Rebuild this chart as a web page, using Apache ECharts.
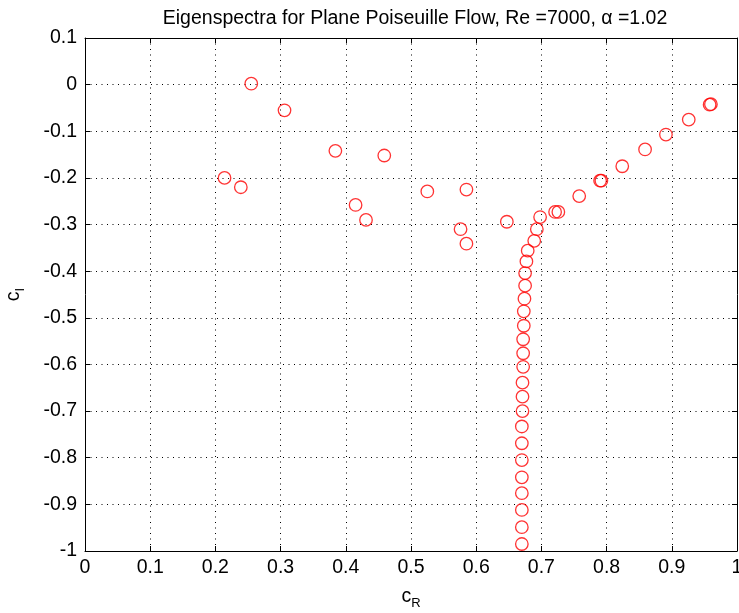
<!DOCTYPE html>
<html>
<head>
<meta charset="utf-8">
<script src="https://cdn.jsdelivr.net/npm/echarts@6/dist/echarts.min.js"></script>
<style>
html,body{margin:0;padding:0;background:#fff;}
#chart{width:739px;height:613px;}
</style>
</head>
<body>
<div id="chart"></div>
<script>
// Real parts c_R
var cR = [
  0.255, 0.306, 0.384, 0.459, 0.214, 0.239, 0.415, 0.431, 0.525, 0.585, 0.576, 0.585,
  0.647, 0.698, 0.721, 0.726, 0.758, 0.790, 0.792, 0.824, 0.859, 0.891, 0.926, 0.958, 0.960,
  0.693, 0.689, 0.679, 0.677, 0.675, 0.675, 0.674, 0.673, 0.673, 0.672, 0.672, 0.672,
  0.671, 0.671, 0.671, 0.670, 0.670, 0.670, 0.670, 0.670, 0.670, 0.670, 0.670
];
// Imaginary parts c_I
var cI = [
  0.002, -0.055, -0.142, -0.152, -0.200, -0.220, -0.258, -0.290, -0.229, -0.225, -0.310, -0.341,
  -0.294, -0.284, -0.273, -0.273, -0.239, -0.206, -0.206, -0.175, -0.139, -0.107, -0.075, -0.043, -0.042,
  -0.310, -0.335, -0.356, -0.379, -0.404, -0.431, -0.459, -0.486, -0.517, -0.546, -0.576, -0.605,
  -0.639, -0.669, -0.700, -0.733, -0.769, -0.805, -0.842, -0.876, -0.912, -0.949, -0.985
];
var xTicks = [0, 0.1, 0.2, 0.3, 0.4, 0.5, 0.6, 0.7, 0.8, 0.9, 1];
var yTicks = [-1, -0.9, -0.8, -0.7, -0.6, -0.5, -0.4, -0.3, -0.2, -0.1, 0, 0.1];
var titleText = 'Eigenspectra for Plane Poiseuille Flow, Re =7000, \u03B1 =1.02';

var points = cR.map(function (x, i) { return [x, cI[i]]; });
function fmt(v) {
  var r = Math.round(v * 10) / 10;
  if (Math.abs(r) < 1e-9) return '0';
  return String(r);
}
var FONT = '"Liberation Sans", Arial, sans-serif';
var dotted = { color: '#000', width: 1, type: [1, 4.5] };

var chart = echarts.init(document.getElementById('chart'));
chart.setOption({
  backgroundColor: '#fff',
  animation: false,
  title: {
    text: titleText,
    left: 410, top: 4, textAlign: 'center',
    textStyle: { fontFamily: FONT, fontSize: 19.5, fontWeight: 'normal', color: '#000' }
  },
  grid: { left: 85, right: 2, top: 38, bottom: 62, show: false, containLabel: false, outerBoundsMode: 'none' },
  xAxis: [{
    type: 'value', min: xTicks[0], max: xTicks[xTicks.length - 1], interval: 0.1,
    position: 'bottom',
    axisLine: { show: true, onZero: false, lineStyle: { color: '#000', width: 1 } },
    axisTick: { show: true, inside: true, length: 5, lineStyle: { color: '#000' } },
    axisLabel: { formatter: fmt, fontFamily: FONT, fontSize: 19.5, color: '#000', margin: 7 },
    splitLine: { show: true, lineStyle: dotted },
    name: '{a|c}{b|R}', nameLocation: 'middle', nameGap: 32,
    nameTextStyle: { rich: {
      a: { fontFamily: FONT, fontSize: 19.5, color: '#000' },
      b: { fontFamily: FONT, fontSize: 13, color: '#000', padding: [14, 0, 0, 0] }
    } }
  }, {
    type: 'value', min: xTicks[0], max: xTicks[xTicks.length - 1], interval: 0.1,
    position: 'top',
    axisLine: { show: true, onZero: false, lineStyle: { color: '#000', width: 1 } },
    axisTick: { show: true, inside: true, length: 5, lineStyle: { color: '#000' } },
    axisLabel: { show: false }, splitLine: { show: false }
  }],
  yAxis: [{
    type: 'value', min: yTicks[0], max: yTicks[yTicks.length - 1], interval: 0.1,
    position: 'left',
    axisLine: { show: true, onZero: false, lineStyle: { color: '#000', width: 1 } },
    axisTick: { show: true, inside: true, length: 5, lineStyle: { color: '#000' } },
    axisLabel: { formatter: fmt, fontFamily: FONT, fontSize: 19.5, color: '#000', margin: 8 },
    splitLine: { show: true, lineStyle: dotted },
    name: '{a|c}{b|I}', nameLocation: 'middle', nameGap: 58, nameRotate: 90,
    nameTextStyle: { rich: {
      a: { fontFamily: FONT, fontSize: 19.5, color: '#000' },
      b: { fontFamily: FONT, fontSize: 13, color: '#000', padding: [14, 0, 0, 0] }
    } }
  }, {
    type: 'value', min: yTicks[0], max: yTicks[yTicks.length - 1], interval: 0.1,
    position: 'right',
    axisLine: { show: true, onZero: false, lineStyle: { color: '#000', width: 1 } },
    axisTick: { show: true, inside: true, length: 5, lineStyle: { color: '#000' } },
    axisLabel: { show: false }, splitLine: { show: false }
  }],
  series: [{
    type: 'scatter',
    xAxisIndex: 0, yAxisIndex: 0,
    data: points,
    symbol: 'circle',
    symbolSize: 12.5,
    itemStyle: { color: 'rgba(0,0,0,0)', borderColor: '#ff0000', borderWidth: 1.3 },
    emphasis: { disabled: true }
  }]
});
</script>
</body>
</html>
